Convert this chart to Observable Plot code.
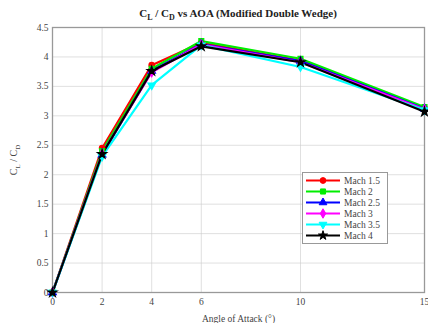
<!DOCTYPE html>
<html>
<head>
<meta charset="utf-8">
<script src="https://cdn.jsdelivr.net/npm/d3@7"></script>
<script src="https://cdn.jsdelivr.net/npm/@observablehq/plot@0.6"></script>
<style>
  body { margin: 0; background: #fff; }
  #wrap { position: relative; width: 428px; height: 323px; overflow: hidden; font-family: "Liberation Serif", "DejaVu Serif", serif; }
  #title { height: 22px; text-align: center; padding-left: 48px; font-weight: bold; font-size: 11px; line-height: 26px; color: #222; }
  #title sub { font-size: 8px; }
  #ylab { position: absolute; left: 15px; top: 160px; transform: translate(-50%, -50%) rotate(-90deg); font-size: 10px; color: #444; white-space: nowrap; }
  #ylab sub { font-size: 7px; }
  #legend { position: absolute; left: 302px; top: 172px; width: 84px; background: #fff; border: 1px solid #999; padding: 2px 0; }
  .row { display: flex; align-items: center; height: 11px; font-size: 9.5px; color: #444; }
  .row svg { margin-left: 2px; margin-right: 3px; }
</style>
</head>
<body>
<div id="wrap">
  <div id="title">C<sub>L</sub> / C<sub>D</sub> vs AOA (Modified Double Wedge)</div>
  <div id="chart"></div>
  <div id="ylab">C<sub>L</sub> / C<sub>D</sub></div>
  <div id="legend"></div>
</div>
<script>
// Angle of attack (degrees)
const aoa = [0, 2, 4, 6, 10, 15];
const xTicks = [0, 2, 4, 6, 10, 15];
const yTicks = [0, 0.5, 1, 1.5, 2, 2.5, 3, 3.5, 4, 4.5];

// Lift-to-drag ratio per Mach number
const series = ["Mach 1.5", "Mach 2", "Mach 2.5", "Mach 3", "Mach 3.5", "Mach 4"];
const mach15 = [0, 2.45, 3.86, 4.24, 3.94, 3.13];
const mach2  = [0, 2.40, 3.80, 4.27, 3.97, 3.15];
const mach25 = [0, 2.34, 3.76, 4.22, 3.93, 3.12];
const mach3  = [0, 2.36, 3.74, 4.21, 3.91, 3.11];
const mach35 = [0, 2.31, 3.52, 4.20, 3.83, 3.10];
const mach4  = [0, 2.35, 3.76, 4.18, 3.91, 3.07];
const values = [mach15, mach2, mach25, mach3, mach35, mach4];

const colors = ["#ff0000", "#00ee00", "#0000ff", "#ff00ff", "#00ffff", "#000000"];

// Downward-pointing triangle marker
const triangleDown = {
  draw(context, size) {
    const y = -Math.sqrt(size / (Math.sqrt(3) * 3));
    context.moveTo(0, -y * 2);
    context.lineTo(-Math.sqrt(3) * y, y);
    context.lineTo(Math.sqrt(3) * y, y);
    context.closePath();
  }
};
const symbols = [d3.symbolCircle, d3.symbolSquare, d3.symbolTriangle, d3.symbolDiamond, triangleDown, d3.symbolStar];

const data = series.flatMap((s, i) => aoa.map((a, j) => ({series: s, aoa: a, ratio: values[i][j]})));

const chart = Plot.plot({
  width: 428,
  height: 301,
  marginTop: 5,
  marginBottom: 31,
  marginLeft: 52,
  marginRight: 4,
  style: {fontFamily: "Liberation Serif, serif", fontSize: "9.5px", color: "#444", background: "#fff"},
  x: {domain: [0, 15], ticks: xTicks, tickFormat: d => String(d), tickSize: 0, tickPadding: 6,
      label: "Angle of Attack (°)", labelAnchor: "center", labelArrow: "none", labelOffset: 29},
  y: {domain: [0, 4.5], ticks: yTicks, tickFormat: d => String(d), tickSize: 0, tickPadding: 4, label: null},
  color: {domain: series, range: colors},
  symbol: {domain: series, range: symbols},
  marks: [
    Plot.gridX(xTicks, {stroke: "#ccc", strokeOpacity: 0.6}),
    Plot.gridY(yTicks, {stroke: "#ccc", strokeOpacity: 0.6}),
    Plot.frame({stroke: "#999", strokeWidth: 1.3}),
    Plot.line(data, {x: "aoa", y: "ratio", z: "series", stroke: "series", strokeWidth: 2.2}),
    Plot.dot(data, {x: "aoa", y: "ratio", symbol: "series", fill: "series", stroke: "series", r: 2.6})
  ]
});
document.getElementById("chart").appendChild(chart);

// Legend: line swatch with marker, then series name
const legend = d3.select("#legend");
series.forEach((s, i) => {
  const row = legend.append("div").attr("class", "row");
  const svg = row.append("svg").attr("width", 36).attr("height", 11);
  svg.append("line").attr("x1", 1).attr("x2", 35).attr("y1", 5.5).attr("y2", 5.5)
    .attr("stroke", colors[i]).attr("stroke-width", 2);
  svg.append("path").attr("transform", "translate(18,5.5)")
    .attr("d", d3.symbol(symbols[i], 26)())
    .attr("fill", colors[i]).attr("stroke", colors[i]);
  row.append("span").text(s);
});
</script>
</body>
</html>
